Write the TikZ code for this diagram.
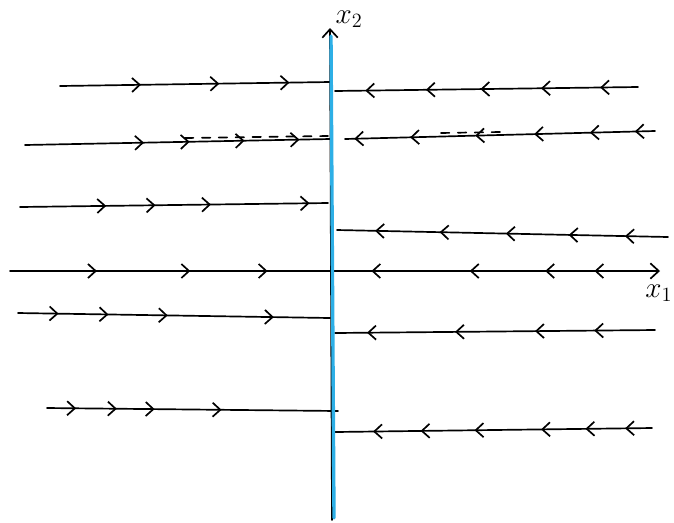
\documentclass[tikz,border=0pt]{standalone}
\usepackage{amsmath}
\usetikzlibrary{arrows.meta, decorations.markings}

\definecolor{sepblue}{RGB}{45,175,230}

\begin{document}
\begin{tikzpicture}[
    x=0.025cm, y=-0.025cm,
    stroke/.style={
        line width=1.2pt,
        draw=black,
        line cap=round
    },
    axisline/.style={
        stroke,
        -{Straight Barb[length=6pt, width=11pt, line width=1.2pt]}
    },
    arrowsat/.style={
        postaction={decorate, decoration={markings,
            mark=at position #1 with {\arrow{Straight Barb[length=5.5pt, width=10pt, line width=1.2pt]}}}}
    },
    arrowsback/.style={
        postaction={decorate, decoration={markings,
            mark=at position #1 with {\arrowreversed{Straight Barb[length=5.5pt, width=10pt, line width=1.2pt]}}}}
    },
    sepline/.style={
        draw=sepblue,
        line width=2.4pt,
        line cap=round
    },
    guess/.style={
        stroke,
        dashed,
        dash pattern=on 6pt off 6pt
    }
]
    \useasboundingbox (0,0) rectangle (674,522);

    % --- axes ---
    \coordinate (o) at (332,271);
    \coordinate (xl) at (10,271);
    \coordinate (xr) at (660,271);
    \coordinate (yb) at (332,520);
    \coordinate (yt) at (330,28);

    \draw[stroke, arrowsat/.list={0.27,0.56,0.80}] (xl) -- (o);
    \draw[axisline, arrowsback/.list={0.12,0.42,0.65,0.80}] (o) -- (xr);
    \draw[axisline] (yb) -- (yt);

    \node[anchor=east, font=\huge, inner sep=1pt] (xone) at (674,293) {$x_1$};
    \node[font=\huge, inner sep=1pt] (xtwo) at (349,19) {$x_2$};

    % --- row 1 ---
    \coordinate (a1) at (60,86);   \coordinate (b1) at (330,82);
    \coordinate (c1) at (638,87);  \coordinate (d1) at (335,91);
    \draw[stroke, arrowsat/.list={0.30,0.59,0.85}] (a1) -- (b1);
    \draw[stroke, arrowsat/.list={0.125,0.32,0.52,0.70,0.90}] (c1) -- (d1);

    % --- row 2 (with dashed guess) ---
    \coordinate (a2) at (25,145);  \coordinate (b2) at (330,139);
    \coordinate (c2) at (655,131); \coordinate (d2) at (345,139);
    \draw[stroke, arrowsat/.list={0.39,0.54,0.72,0.90}] (a2) -- (b2);
    \draw[stroke, arrowsat/.list={0.065,0.21,0.39,0.58,0.79,0.97}] (c2) -- (d2);
    \coordinate (e2) at (185,138); \coordinate (f2) at (328,136);
    \coordinate (g2) at (500,132); \coordinate (h2) at (440,133);
    \draw[guess] (e2) -- (f2);
    \draw[guess] (g2) -- (h2);

    % --- row 3 ---
    \coordinate (a3) at (20,207);  \coordinate (b3) at (328,203);
    \coordinate (c3) at (668,237); \coordinate (d3) at (337,230);
    \draw[stroke, arrowsat/.list={0.28,0.44,0.62,0.94}] (a3) -- (b3);
    \draw[stroke, arrowsat/.list={0.13,0.30,0.49,0.69,0.885}] (c3) -- (d3);

    % --- row 5 ---
    \coordinate (a5) at (18,313);  \coordinate (b5) at (330,318);
    \coordinate (c5) at (655,330); \coordinate (d5) at (335,333);
    \draw[stroke, arrowsat/.list={0.13,0.29,0.48,0.82}] (a5) -- (b5);
    \draw[stroke, arrowsat/.list={0.19,0.375,0.625,0.90}] (c5) -- (d5);

    % --- row 6 ---
    \coordinate (a6) at (47,408);  \coordinate (b6) at (338,411);
    \coordinate (c6) at (652,428); \coordinate (d6) at (335,432);
    \draw[stroke, arrowsat/.list={0.10,0.24,0.37,0.60}] (a6) -- (b6);
    \draw[stroke, arrowsat/.list={0.085,0.21,0.35,0.56,0.73,0.88}] (c6) -- (d6);

    % --- switching line ---
    \coordinate (sb) at (334,518);
    \coordinate (st) at (331,36);
    \draw[sepline] (sb) -- (st);

\end{tikzpicture}
\end{document}
